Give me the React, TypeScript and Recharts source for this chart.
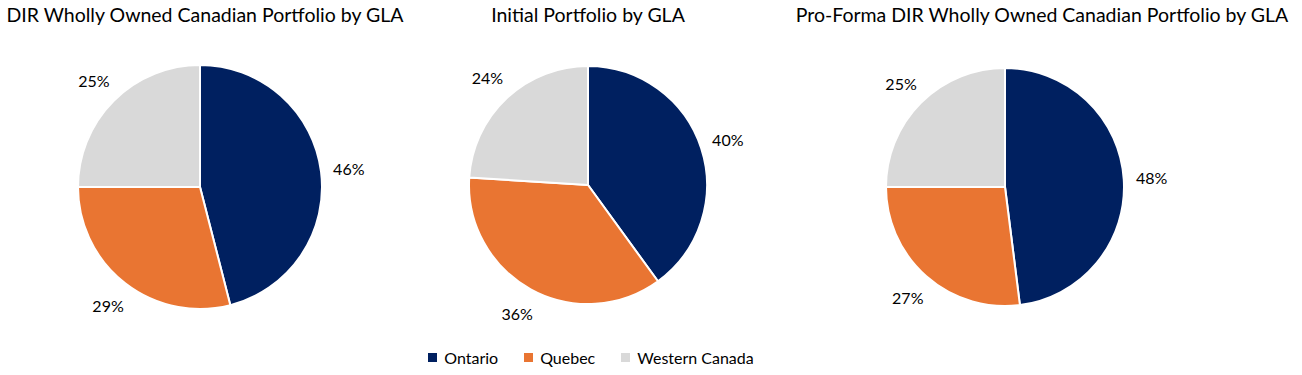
import React from 'react';
import { PieChart, Pie, Cell, Legend } from 'recharts';

// GLA split by region
const regions = ['Ontario', 'Quebec', 'Western Canada'];
const regionColors = ['#002060', '#E97532', '#D9D9D9'];

const whollyOwnedShares = [46, 29, 25];
const initialShares = [40, 36, 24];
const proFormaShares = [48, 27, 25];

const chartTitles = [
  'DIR Wholly Owned Canadian Portfolio by GLA',
  'Initial Portfolio by GLA',
  'Pro-Forma DIR Wholly Owned Canadian Portfolio by GLA',
];

const FONT = 'Lato, "Open Sans", sans-serif';
const RAD = Math.PI / 180;

const toRows = (shares: number[]) =>
  regions.map((name, i) => ({ name, value: shares[i] }));

const pies = [
  { id: 'owned', data: toRows(whollyOwnedShares), cx: 200, cy: 187, r: 122, titleX: 205 },
  { id: 'initial', data: toRows(initialShares), cx: 588, cy: 185, r: 119, titleX: 588 },
  { id: 'proforma', data: toRows(proFormaShares), cx: 1005, cy: 187, r: 119, titleX: 1042 },
];

const renderLabel = (props: any) => {
  const { cx, cy, midAngle, outerRadius, value } = props;
  const dist = outerRadius + 28;
  const x = cx + dist * Math.cos(-midAngle * RAD);
  const y = cy + dist * Math.sin(-midAngle * RAD);
  return (
    <text
      x={x}
      y={y}
      fill="#000"
      fontSize={16}
      fontFamily={FONT}
      textAnchor="middle"
      dominantBaseline="central"
    >
      {`${value}%`}
    </text>
  );
};

const LegendRow = () => (
  <div
    style={{
      display: 'flex',
      justifyContent: 'center',
      gap: 26,
      fontFamily: FONT,
      fontSize: 16,
      color: '#000',
      marginLeft: -120,
    }}
  >
    {regions.map((name, i) => (
      <div key={name} style={{ display: 'flex', alignItems: 'center' }}>
        <span
          style={{
            width: 9,
            height: 9,
            background: regionColors[i],
            display: 'inline-block',
            marginRight: 7,
          }}
        />
        {name}
      </div>
    ))}
  </div>
);

export default function App() {
  return (
    <div
      style={{
        position: 'absolute',
        left: 0,
        top: 0,
        width: 1302,
        height: 375,
        background: '#fff',
      }}
    >
      {pies.map((p, i) => (
        <div
          key={p.id}
          style={{
            position: 'absolute',
            top: 3,
            left: p.titleX - 300,
            width: 600,
            textAlign: 'center',
            fontFamily: FONT,
            fontSize: 19.5,
            color: '#000',
            whiteSpace: 'nowrap',
          }}
        >
          {chartTitles[i]}
        </div>
      ))}
      <PieChart width={1302} height={375} margin={{ top: 0, right: 0, bottom: 0, left: 0 }}>
        {pies.map((p) => (
          <Pie
            key={p.id}
            data={p.data}
            dataKey="value"
            nameKey="name"
            cx={p.cx}
            cy={p.cy}
            outerRadius={p.r}
            startAngle={90}
            endAngle={-270}
            stroke="#fff"
            strokeWidth={2}
            label={renderLabel}
            labelLine={false}
            isAnimationActive={false}
          >
            {p.data.map((d, i) => (
              <Cell key={d.name} fill={regionColors[i]} />
            ))}
          </Pie>
        ))}
        <Legend
          verticalAlign="bottom"
          content={() => <LegendRow />}
          wrapperStyle={{ bottom: 8 }}
        />
      </PieChart>
    </div>
  );
}
